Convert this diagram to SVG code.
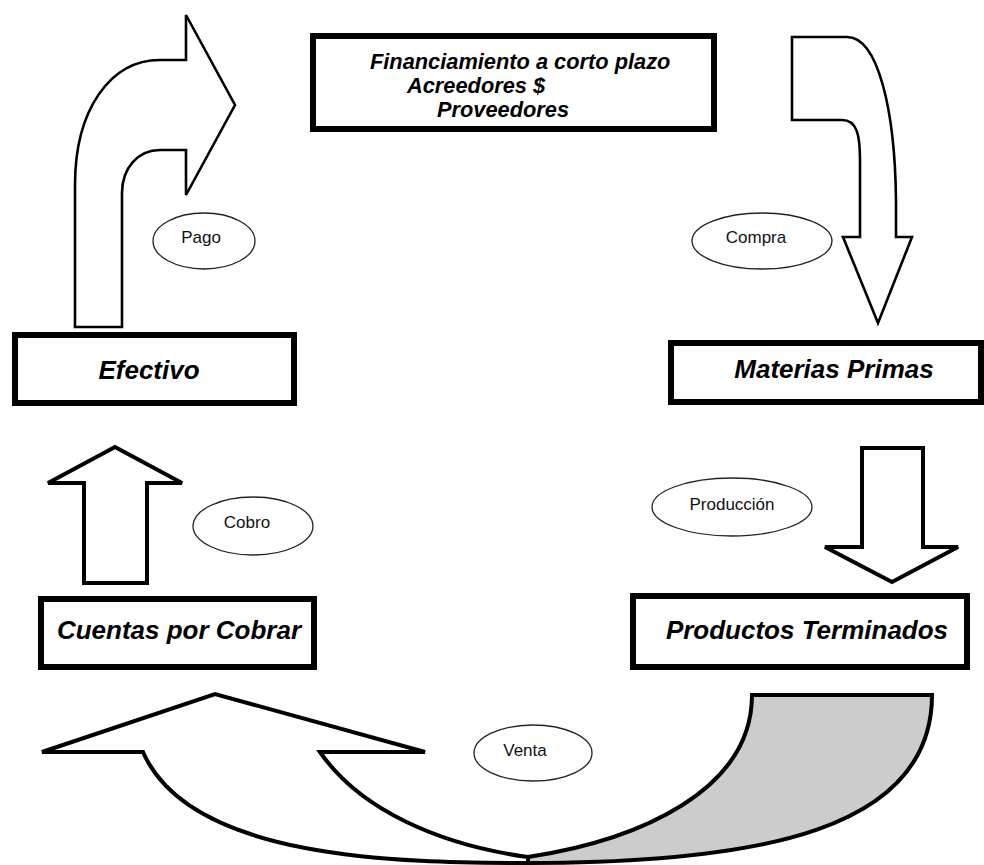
<svg xmlns="http://www.w3.org/2000/svg" width="984" height="865" viewBox="0 0 984 865">
<style>
.box{fill:#fff;stroke:#000;stroke-width:6}
.lbl{font-family:"Liberation Sans",Arial,sans-serif;font-weight:bold;font-style:italic;font-size:26px;fill:#000;text-anchor:middle}
.fin{font-family:"Liberation Sans",Arial,sans-serif;font-weight:bold;font-style:italic;font-size:21.8px;fill:#000}
.ell{fill:#fff;stroke:#222;stroke-width:1.3}
.etx{font-family:"Liberation Sans",Arial,sans-serif;font-size:17px;fill:#111;text-anchor:middle}
.arr{fill:#fff;stroke:#000;stroke-width:2.6;stroke-linejoin:miter}
.arrb{fill:#fff;stroke:#000;stroke-width:4;stroke-linejoin:miter}
</style>
<rect width="984" height="865" fill="#fff"/>
<g id="connectors">
  <path id="pago-arrow" class="arr" d="M75,327 L75,185 C75,110 110,60 160,60 L186,60 L186,15 L235,105 L186,195 L186,150 L160,150 C138,150 122,168 122,193 L122,327 Z"/>
  <path id="compra-arrow" class="arr" d="M792,37 L847,37 C878,37 895,110 896,200 L896,237 L912,237 L878,323 L843,237 L860,237 L860,160 C860,135 857,120 842,120 L792,120 Z"/>
  <path id="produccion-arrow" class="arrb" d="M862,448 L923,448 L923,547 L958,547 L892,582 L825,547 L862,547 Z"/>
  <path id="cobro-arrow" class="arrb" d="M84,583 L84,483 L48,483 L115,447 L182,483 L147,483 L147,583 Z"/>
  <path id="venta-back" fill="#cccccc" stroke="#000" stroke-width="4" d="M752,695 L932,695 C932,830 760,863 528,863 L528,857 C640,840 752,790 752,695 Z"/>
  <path id="venta-front" class="arrb" d="M143,752 L42,752 L215,694 L425,752 L320,752 C360,810 440,845 528,857 L528,863 C400,863 190,860 143,752 Z"/>
</g>
<g id="financiamiento">
  <rect class="box" x="313" y="36" width="401" height="93"/>
  <text class="fin" x="370" y="69">Financiamiento a corto plazo</text>
  <text class="fin" x="407" y="93">Acreedores $</text>
  <text class="fin" x="437" y="117">Proveedores</text>
</g>
<g id="efectivo">
  <rect class="box" x="15" y="335" width="279" height="68"/>
  <text class="lbl" x="149" y="379">Efectivo</text>
</g>
<g id="materias-primas">
  <rect class="box" x="671" y="343" width="310" height="59"/>
  <text class="lbl" x="834" y="378">Materias Primas</text>
</g>
<g id="cuentas-por-cobrar">
  <rect class="box" x="41" y="599" width="273" height="68"/>
  <text class="lbl" x="179" y="639">Cuentas por Cobrar</text>
</g>
<g id="productos-terminados">
  <rect class="box" x="633" y="596" width="334" height="71"/>
  <text class="lbl" x="807" y="639">Productos Terminados</text>
</g>
<g id="pago">
  <ellipse class="ell" cx="204" cy="241" rx="51" ry="28"/>
  <text class="etx" x="201" y="243">Pago</text>
</g>
<g id="compra">
  <ellipse class="ell" cx="762" cy="241" rx="70" ry="28"/>
  <text class="etx" x="756" y="243">Compra</text>
</g>
<g id="cobro">
  <ellipse class="ell" cx="253" cy="526" rx="60" ry="29"/>
  <text class="etx" x="247" y="528">Cobro</text>
</g>
<g id="produccion">
  <ellipse class="ell" cx="732" cy="507" rx="80" ry="29"/>
  <text class="etx" x="732" y="510">Producción</text>
</g>
<g id="venta">
  <ellipse class="ell" cx="533" cy="753" rx="59" ry="28"/>
  <text class="etx" x="525" y="756">Venta</text>
</g>
</svg>
